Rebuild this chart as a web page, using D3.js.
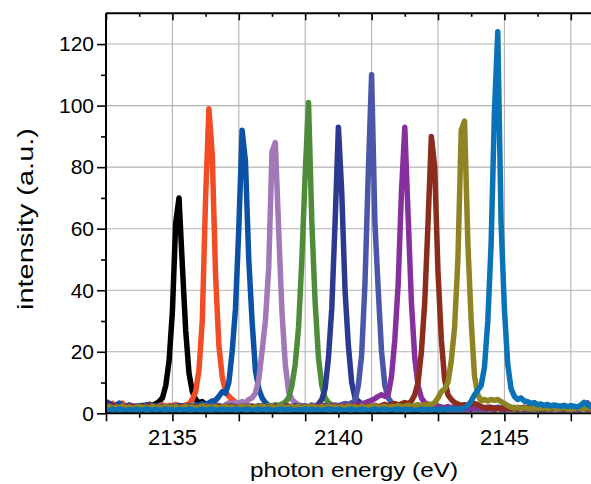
<!DOCTYPE html>
<html><head><meta charset="utf-8">
<script src="https://cdn.jsdelivr.net/npm/d3@7/dist/d3.min.js"></script>
<style>
body{margin:0;background:#fff}
svg{display:block;background:#fff}
text{font-family:"Liberation Sans",Arial,Helvetica,sans-serif;fill:#000}
</style>
</head><body>
<svg id="chart" width="591" height="484"></svg>
<script>
// photon energy grid (eV)
const energy = [
2133.0,2133.1,2133.2,2133.3,2133.4,2133.5,2133.6,2133.7,2133.8,2133.9,
2134.0,2134.1,2134.2,2134.3,2134.4,2134.5,2134.6,2134.7,2134.8,2134.9,
2135.0,2135.1,2135.2,2135.3,2135.4,2135.5,2135.6,2135.7,2135.8,2135.9,
2136.0,2136.1,2136.2,2136.3,2136.4,2136.5,2136.6,2136.7,2136.8,2136.9,
2137.0,2137.1,2137.2,2137.3,2137.4,2137.5,2137.6,2137.7,2137.8,2137.9,
2138.0,2138.1,2138.2,2138.3,2138.4,2138.5,2138.6,2138.7,2138.8,2138.9,
2139.0,2139.1,2139.2,2139.3,2139.4,2139.5,2139.6,2139.7,2139.8,2139.9,
2140.0,2140.1,2140.2,2140.3,2140.4,2140.5,2140.6,2140.7,2140.8,2140.9,
2141.0,2141.1,2141.2,2141.3,2141.4,2141.5,2141.6,2141.7,2141.8,2141.9,
2142.0,2142.1,2142.2,2142.3,2142.4,2142.5,2142.6,2142.7,2142.8,2142.9,
2143.0,2143.1,2143.2,2143.3,2143.4,2143.5,2143.6,2143.7,2143.8,2143.9,
2144.0,2144.1,2144.2,2144.3,2144.4,2144.5,2144.6,2144.7,2144.8,2144.9,
2145.0,2145.1,2145.2,2145.3,2145.4,2145.5,2145.6,2145.7,2145.8,2145.9,
2146.0,2146.1,2146.2,2146.3,2146.4,2146.5,2146.6,2146.7,2146.8,2146.9,
2147.0,2147.1,2147.2,2147.3,2147.4,2147.5,2147.6,2147.7,2147.8,2147.9,
2148.0];

// intensity (a.u.) of each spectrum, one value per energy
const spec1 = [
2.2,1.8,2.5,1.6,2.1,2.7,1.9,2.4,1.5,2.3,
2.0,2.6,2.3,2.9,2.5,3.1,3.8,5,9,17,
33,62,70,48,27,13,7,4.5,3.4,3.8,
2.9,2.2,1.8,2.4,1.7,2.1,1.5,2.2,1.9,1.6,
2.0,1.4,1.8,2.2,1.6,1.9,1.3,2.1,1.7,1.5,
1.9,1.6,2.2,1.4,1.8,1.5,2.0,1.7,1.3,1.9,
1.6,2.1,1.4,1.8,1.5,2.0,1.2,1.7,1.9,1.4,
1.8,1.5,2.1,1.3,1.7,1.9,1.4,1.6,2.0,1.5,
1.7,1.3,1.9,1.6,1.4,2.0,1.5,1.8,1.2,1.7,
1.9,1.4,1.6,2.1,1.5,1.3,1.8,1.6,2.0,1.4,
1.7,1.5,1.9,1.3,1.6,1.8,1.4,2.0,1.5,1.7,
1.3,1.8,1.6,1.4,1.9,1.5,1.7,1.2,1.8,1.6,
1.4,1.9,1.5,1.7,1.3,1.8,1.6,1.4,2.0,1.5,
1.7,1.3,1.9,1.6,1.4,1.8,1.5,1.7,1.2,1.8,
1.6,1.4,1.9,1.5,1.7,1.3,1.8,1.6,1.4,1.9,
1.5];
const spec2 = [
2.6,2.0,3.2,2.4,1.8,3.3,2.2,1.7,2.5,2.0,
1.6,2.3,1.9,2.7,2.1,1.5,2.4,2.8,2.0,2.6,
2.2,2.9,2.4,2.0,2.7,3.0,4.5,7,14,30,
70,99,84,45,22,12,7,5.5,4.5,3.6,
2.6,2.1,1.7,2.4,1.9,1.5,2.2,1.8,1.4,2.0,
1.6,2.3,1.5,1.9,1.7,2.1,1.4,1.8,2.2,1.5,
1.9,1.6,2.0,1.3,1.8,1.5,2.1,1.7,1.4,1.9,
1.5,1.8,1.6,2.2,1.4,1.7,1.9,1.3,1.8,1.6,
2.0,1.5,1.7,1.4,1.9,1.6,1.3,1.8,2.1,1.5,
1.7,1.4,1.9,1.6,1.5,2.0,1.3,1.8,1.6,1.4,
1.9,1.5,1.7,2.1,1.4,1.6,1.8,1.3,1.9,1.5,
1.6,1.8,1.4,2.0,1.5,1.7,1.3,1.9,1.6,1.4,
1.8,1.5,1.7,1.3,1.9,1.6,1.4,2.0,1.5,1.8,
1.4,1.7,1.6,1.9,1.3,1.8,1.5,1.7,1.4,2.0,
1.6,1.5,1.8,1.4,1.9,1.6,1.3,1.7,1.5,1.8,
1.6];
const spec3 = [
3.0,2.4,1.9,2.6,3.3,2.2,1.8,2.7,2.3,1.9,
2.5,2.1,2.8,2.4,1.7,2.2,2.6,2.0,2.3,1.8,
2.4,2.0,2.6,2.2,1.9,2.5,2.1,2.8,2.4,3.2,
2.7,3.4,4.0,4.2,5.5,7,6.5,10,20,34,
60,92,82,50,30,14,8,5,3.5,2.6,
2.2,1.8,2.4,1.6,2.0,1.7,2.3,1.5,1.9,2.1,
1.6,2.0,1.4,1.8,2.2,1.5,1.9,1.7,1.3,2.0,
1.6,1.8,1.4,2.1,1.7,1.5,1.9,1.3,1.8,1.6,
2.0,1.4,1.7,1.9,1.5,1.8,1.3,1.6,2.0,1.5,
1.8,1.4,1.7,1.6,2.0,1.3,1.9,1.5,1.7,1.4,
1.8,1.6,1.3,1.9,1.5,1.7,2.0,1.4,1.6,1.8,
1.5,1.7,1.3,1.9,1.6,1.4,1.8,1.5,2.0,1.6,
1.4,1.7,1.9,1.5,1.6,1.3,1.8,1.5,1.7,1.4,
1.9,1.6,1.5,1.8,1.3,1.7,1.6,2.0,1.4,1.8,
1.5,1.7,1.4,1.9,1.6,1.5,1.8,1.3,1.7,1.6,
1.5];
const spec4 = [
2.0,2.5,1.8,2.2,1.6,2.4,2.0,1.7,2.3,1.9,
2.1,1.6,2.4,1.9,2.2,1.7,2.5,2.0,1.8,2.3,
1.9,2.2,1.7,2.4,2.0,1.6,2.3,1.9,2.1,1.8,
2.4,2.0,1.7,2.2,2.6,2.1,2.8,3.4,3.0,3.6,
3.2,3.8,3.4,4.5,5,6.5,11,20,30,47,
85,88,60,33,16,7,4.5,3.5,2.8,2.4,
2.0,1.7,2.2,1.6,1.9,1.5,2.1,1.8,1.4,1.9,
1.6,2.0,1.5,1.8,1.7,2.1,1.4,1.9,1.6,1.5,
1.8,1.4,2.0,1.6,1.7,1.3,1.9,1.5,1.8,1.6,
1.4,1.9,1.7,1.5,2.0,1.3,1.8,1.6,1.4,1.9,
1.5,1.7,1.6,2.0,1.4,1.8,1.5,1.7,1.3,1.9,
1.6,1.4,1.8,1.5,1.9,1.7,1.3,1.8,1.6,1.5,
2.0,1.4,1.7,1.6,1.8,1.3,1.9,1.5,1.7,1.4,
1.8,1.6,1.5,1.9,1.4,1.7,1.6,1.8,1.3,1.9,
1.5,1.7,1.6,1.4,2.0,1.5,1.8,1.6,1.3,1.7,
1.6];
const spec5 = [
1.7,2.1,1.5,1.9,2.3,1.6,2.0,1.4,1.8,2.2,
1.5,1.9,1.7,2.1,1.4,1.8,2.0,1.6,2.2,1.5,
1.9,1.7,2.1,1.5,1.8,2.0,1.6,2.3,1.9,1.7,
2.1,1.5,1.9,1.7,2.2,1.6,2.0,1.8,2.4,1.9,
2.2,1.7,2.0,2.3,1.8,2.1,2.5,1.9,2.2,2.6,
2.3,2.8,2.5,3.0,3.6,5,9,16,28,50,
78,101,62,36,18,9,5,3.5,2.8,2.2,
1.9,2.3,1.6,2.0,1.7,1.5,2.1,1.8,1.4,1.9,
1.6,2.0,1.5,1.8,1.7,1.4,1.9,1.6,2.1,1.5,
1.8,1.4,1.7,2.0,1.5,1.6,1.9,1.3,1.8,1.6,
1.5,1.9,1.7,1.4,2.0,1.6,1.8,1.5,1.7,1.3,
1.9,1.6,1.4,1.8,1.5,2.0,1.7,1.3,1.6,1.8,
1.5,1.7,1.9,1.4,1.6,1.8,1.5,2.0,1.3,1.7,
1.6,1.9,1.4,1.8,1.5,1.7,1.6,1.3,1.9,1.5,
1.8,1.4,1.7,1.6,2.0,1.5,1.7,1.3,1.8,1.6,
1.4];
const spec6 = [
3.8,3.2,2.6,2.0,2.4,1.8,2.2,2.7,1.9,2.3,
2.0,1.7,2.4,2.1,1.8,2.5,1.9,2.2,1.6,2.0,
2.3,1.8,2.1,1.7,2.4,1.9,2.2,1.6,2.0,2.3,
1.8,2.1,1.7,2.5,1.9,2.2,1.6,2.0,2.4,1.8,
2.1,1.7,2.3,1.9,2.2,1.6,2.0,2.4,1.8,2.1,
1.9,2.3,1.7,2.0,2.4,2.1,1.8,2.5,2.2,2.0,
2.4,2.1,2.7,2.3,3.0,4.5,8,18,34,62,
93,72,40,22,10,5,4,3,2.5,2.0,
1.7,2.1,1.5,1.9,1.6,1.8,1.4,2.0,1.7,1.5,
1.9,1.6,1.4,1.8,1.5,2.0,1.7,1.3,1.8,1.6,
1.5,1.9,1.4,1.7,1.6,2.0,1.5,1.8,1.3,1.7,
1.9,1.5,1.6,1.8,1.4,1.7,2.0,1.5,1.6,1.8,
1.4,1.7,1.6,1.9,1.5,1.8,1.3,1.7,1.6,2.0,
1.5,1.8,1.4,1.7,1.9,1.6,1.5,1.8,1.3,1.7,
1.6,1.9,1.5,1.4,1.8,1.7,1.5,2.0,1.4,1.6,
1.8];
const spec7 = [
2.4,1.9,2.2,1.7,2.0,2.5,1.8,2.1,1.6,2.3,
1.9,2.2,1.7,2.0,2.4,1.8,2.1,1.6,2.3,1.9,
2.2,1.7,2.0,2.4,1.8,2.1,1.6,2.3,1.9,2.2,
1.7,2.0,2.4,1.8,2.1,1.6,2.3,1.9,2.2,1.7,
2.0,2.4,1.8,2.1,1.6,2.3,1.9,2.2,1.7,2.0,
2.4,1.8,2.1,1.6,2.3,1.9,2.2,1.7,2.0,2.4,
1.8,2.1,1.7,2.3,1.9,2.2,2.6,2.0,2.3,2.7,
2.4,2.8,3.2,2.9,3.4,4,9,19,42,78,
110,62,40,20,9,5,3.5,2.8,2.2,1.9,
1.6,2.0,1.5,1.8,1.4,1.9,1.6,1.7,1.3,1.8,
1.5,1.9,1.6,1.4,1.8,1.7,1.5,2.0,1.4,1.6,
1.8,1.5,1.7,1.9,1.4,1.6,1.8,1.3,1.7,1.5,
1.9,1.6,1.4,1.8,1.5,1.7,2.0,1.4,1.6,1.8,
1.5,1.7,1.9,1.4,1.6,1.8,1.5,1.3,1.7,1.9,
1.6,1.4,1.8,1.5,1.7,1.6,1.9,1.4,1.8,1.5,
1.7];
const spec8 = [
1.9,2.3,1.7,2.0,1.6,2.2,1.8,2.4,1.9,1.7,
2.1,1.8,2.3,1.6,2.0,1.9,2.2,1.7,2.1,1.8,
2.0,2.3,1.7,2.1,1.9,2.2,1.6,2.0,1.8,2.3,
1.9,2.1,1.7,2.2,2.0,1.8,2.4,1.9,2.1,1.7,
2.2,1.9,2.0,2.3,1.7,2.1,1.8,2.4,2.0,1.9,
2.2,1.7,2.1,2.3,1.9,2.0,1.8,2.2,2.1,1.9,
2.3,2.0,1.8,2.2,2.5,2.1,2.4,2.0,2.6,2.3,
2.1,2.5,2.2,2.7,2.4,2.8,2.5,3.0,3.4,3.8,
4.2,4.8,5.5,6,5.5,6,12,24,42,72,
93,64,36,18,9,5,3.5,2.8,2.5,2.9,
2.3,2.0,1.8,2.2,1.6,1.9,1.5,2.0,1.7,1.4,
1.8,1.6,1.9,1.5,1.7,2.0,1.4,1.8,1.6,1.5,
1.9,1.4,1.7,1.6,1.8,1.5,2.0,1.3,1.7,1.6,
1.8,1.5,1.7,1.9,1.4,1.6,1.8,1.5,2.0,1.4,
1.7,1.6,1.9,1.5,3.0,3.4,2.2,1.8,1.6,1.5,
1.9];
const spec9 = [
2.1,1.7,2.4,1.9,2.2,1.6,2.0,2.3,1.8,2.1,
1.7,2.2,1.9,2.4,1.8,2.0,2.3,1.7,2.1,1.9,
2.2,1.8,2.0,2.4,1.7,2.1,1.9,2.3,1.8,2.0,
2.2,1.7,2.1,1.9,2.4,1.8,2.0,2.3,1.7,2.1,
1.9,2.2,1.8,2.0,2.4,1.7,2.1,1.9,2.3,1.8,
2.0,2.2,1.7,2.1,1.9,2.4,1.8,2.0,2.3,1.7,
2.1,1.9,2.2,1.8,2.0,2.4,1.7,2.1,1.9,2.3,
1.8,2.0,2.2,1.7,2.1,1.9,2.4,1.8,2.0,2.3,
2.2,2.6,2.1,2.5,2.9,2.4,2.8,3.2,2.7,3.1,
3.5,3.0,4,6,10,20,36,62,90,80,
46,24,11,6,4.5,3.5,3.0,2.6,2.8,2.4,
3.0,3.2,2.8,2.2,1.8,1.6,1.9,1.5,1.7,1.4,
1.8,1.6,1.5,1.9,1.4,1.7,1.6,1.8,1.3,1.7,
1.5,1.9,1.6,1.4,1.8,1.5,1.7,2.0,1.4,1.6,
1.8,1.5,1.7,1.6,1.9,1.4,1.8,1.5,1.6,1.7,
1.5];
const spec10 = [
1.8,2.2,1.6,2.0,1.9,2.3,1.7,2.1,1.5,1.9,
2.2,1.8,2.0,1.6,2.3,1.9,2.1,1.7,2.4,1.8,
2.0,2.2,1.6,1.9,2.3,1.8,2.1,1.7,2.0,2.4,
1.8,2.1,1.9,2.2,1.6,2.0,2.3,1.8,2.1,1.7,
2.0,2.4,1.9,2.2,1.7,2.1,1.8,2.3,2.0,1.9,
2.2,1.7,2.1,2.4,1.8,2.0,2.2,1.9,2.3,1.7,
2.1,1.9,2.4,2.0,1.8,2.2,1.7,2.3,2.0,2.1,
1.9,2.2,1.8,2.4,2.0,2.1,1.7,2.3,1.9,2.2,
2.0,2.4,1.8,2.1,2.3,1.9,2.2,2.0,2.5,2.1,
2.3,2.6,2.2,2.5,2.8,2.4,2.7,3.0,2.8,3.5,
5,7,8,10,17,28,50,92,95,55,
30,12,6,4,4.5,4,4.5,4.2,4.5,3.8,
3.2,2.5,2.0,1.7,1.9,1.5,1.8,1.6,1.4,1.9,
1.6,1.5,1.8,1.4,1.7,1.9,1.5,1.6,1.8,1.3,
1.7,1.5,1.9,1.6,1.4,1.8,1.6,1.5,1.7,1.9,
1.4];
const spec11 = [
1.2,0.9,1.3,1.0,1.4,1.1,0.8,1.2,1.0,1.3,
1.1,0.9,1.4,1.2,1.0,1.3,0.9,1.1,1.4,1.0,
1.2,0.9,1.3,1.1,1.0,1.4,1.2,0.9,1.1,1.3,
1.0,1.2,1.4,0.9,1.1,1.3,1.0,1.2,0.9,1.4,
1.1,1.0,1.3,1.2,0.9,1.1,1.4,1.0,1.2,1.3,
0.9,1.1,1.2,1.4,1.0,1.3,1.1,0.9,1.2,1.0,
1.4,1.1,1.3,1.0,1.2,0.9,1.1,1.4,1.2,1.0,
1.3,1.1,0.9,1.2,1.4,1.0,1.1,1.3,1.2,0.9,
1.1,1.4,1.0,1.2,1.3,1.1,0.9,1.2,1.4,1.0,
1.3,1.1,1.2,0.9,1.0,1.4,1.2,1.1,1.3,1.0,
1.2,1.4,1.1,1.3,1.5,1.2,1.6,1.4,1.8,2.5,
4,6,7.5,9,15,30,55,98,124,62,
34,16,8,5.5,4.5,5,4,3.8,3.2,3.5,
2.8,3.0,2.6,2.9,2.4,2.7,2.5,2.3,2.6,2.2,
2.5,2.3,2.1,2.6,3.6,2.8,2.2,2.0,2.4,2.1,
2.3];

const spectra = [spec1, spec2, spec3, spec4, spec5, spec6, spec7, spec8, spec9, spec10, spec11];
const spectrumColors = ["#000000","#f24c24","#0b52a6","#a178b8","#4e8c3a","#2b3990","#4b56a8","#86309e","#8b2c1c","#8e8424","#0a72b6"];

const xMajorTicks = [2133,2135,2137,2139,2141,2143,2145,2147];
const xMinorTicks = [2134,2136,2138,2140,2142,2144,2146,2148];
const xTickLabels = [2135,2140,2145];
const yMajorTicks = [0,20,40,60,80,100,120];
const yMinorTicks = [10,30,50,70,90,110,130];
const xDomain = [2133, 2148];
const yDomain = [0, 130];

const svg = d3.select("#chart");
const L = 106, T = 13.3, B = 413.3, pxPerEv = 33.2;
const x = d3.scaleLinear().domain(xDomain).range([L, L + (xDomain[1]-xDomain[0]) * pxPerEv]);
const y = d3.scaleLinear().domain(yDomain).range([B, T]);
const R = 591;

svg.append("rect").attr("width",591).attr("height",484).attr("fill","#fff");

svg.append("defs").append("clipPath").attr("id","plotclip")
  .append("rect").attr("x",L).attr("y",T).attr("width",R-L).attr("height",B-T);

// grid
const grid = svg.append("g").attr("stroke","#b3b3b3").attr("stroke-width",1.1);
grid.selectAll("line.v").data(xMajorTicks.filter(d=>d>xDomain[0])).join("line")
  .attr("x1",d=>x(d)).attr("x2",d=>x(d)).attr("y1",T).attr("y2",B);
grid.selectAll("line.h").data(yMajorTicks.filter(d=>d>0)).join("line")
  .attr("class","h")
  .attr("x1",L).attr("x2",R).attr("y1",d=>y(d)).attr("y2",d=>y(d));

// spectra
const line = d3.line().x((d,i)=>x(energy[i])).y(d=>y(d));
svg.append("g").attr("clip-path","url(#plotclip)")
  .selectAll("path").data(spectra).join("path")
  .attr("d", d=>line(d))
  .attr("fill","none")
  .attr("stroke",(d,i)=>spectrumColors[i])
  .attr("stroke-width",5.5)
  .attr("stroke-linejoin","round")
  .attr("stroke-linecap","round");

// axes
function styleAxis(g){ g.select(".domain").remove(); g.selectAll("line").attr("stroke","#000").attr("stroke-width",1.6); }
svg.append("g").attr("transform",`translate(0,${B})`)
  .call(d3.axisBottom(x).tickValues(xMajorTicks).tickSize(8).tickFormat(""))
  .call(styleAxis);
svg.append("g").attr("transform",`translate(0,${B})`)
  .call(d3.axisBottom(x).tickValues(xMinorTicks.filter(d=>x(d)<R)).tickSize(4.5).tickFormat(""))
  .call(styleAxis);
svg.append("g").attr("transform",`translate(0,${T})`)
  .call(d3.axisBottom(x).tickValues(xMajorTicks).tickSize(7).tickFormat(""))
  .call(styleAxis);
svg.append("g").attr("transform",`translate(0,${T})`)
  .call(d3.axisBottom(x).tickValues(xMinorTicks.filter(d=>x(d)<R)).tickSize(3.5).tickFormat(""))
  .call(styleAxis);
svg.append("g").attr("transform",`translate(${L},0)`)
  .call(d3.axisLeft(y).tickValues(yMajorTicks).tickSize(9).tickFormat(""))
  .call(styleAxis);
svg.append("g").attr("transform",`translate(${L},0)`)
  .call(d3.axisLeft(y).tickValues(yMinorTicks.filter(d=>d<130)).tickSize(5).tickFormat(""))
  .call(styleAxis);

// axis lines
svg.append("line").attr("x1",L).attr("x2",R).attr("y1",B).attr("y2",B).attr("stroke","#000").attr("stroke-width",2);
svg.append("line").attr("x1",L).attr("x2",R).attr("y1",T).attr("y2",T).attr("stroke","#000").attr("stroke-width",2);
svg.append("line").attr("x1",L).attr("x2",L).attr("y1",T).attr("y2",B+1).attr("stroke","#000").attr("stroke-width",2);

// tick labels
svg.append("g").selectAll("text").data(xTickLabels).join("text")
  .attr("x",d=>x(d)).attr("y",444.5).attr("text-anchor","middle")
  .attr("font-size",22).text(d=>d);
svg.append("g").selectAll("text").data(yMajorTicks).join("text")
  .attr("x",94).attr("y",d=>y(d)+7.3).attr("text-anchor","end")
  .attr("font-size",21).text(d=>d);

// axis titles
svg.append("text").attr("x",354).attr("y",477).attr("text-anchor","middle")
  .attr("font-size",21).attr("textLength",208).attr("lengthAdjust","spacingAndGlyphs")
  .text("photon energy (eV)");
svg.append("text").attr("transform","translate(33,219) rotate(-90)").attr("text-anchor","middle")
  .attr("font-size",22.5).attr("textLength",182).attr("lengthAdjust","spacingAndGlyphs")
  .text("intensity (a.u.)");
</script>
</body></html>
